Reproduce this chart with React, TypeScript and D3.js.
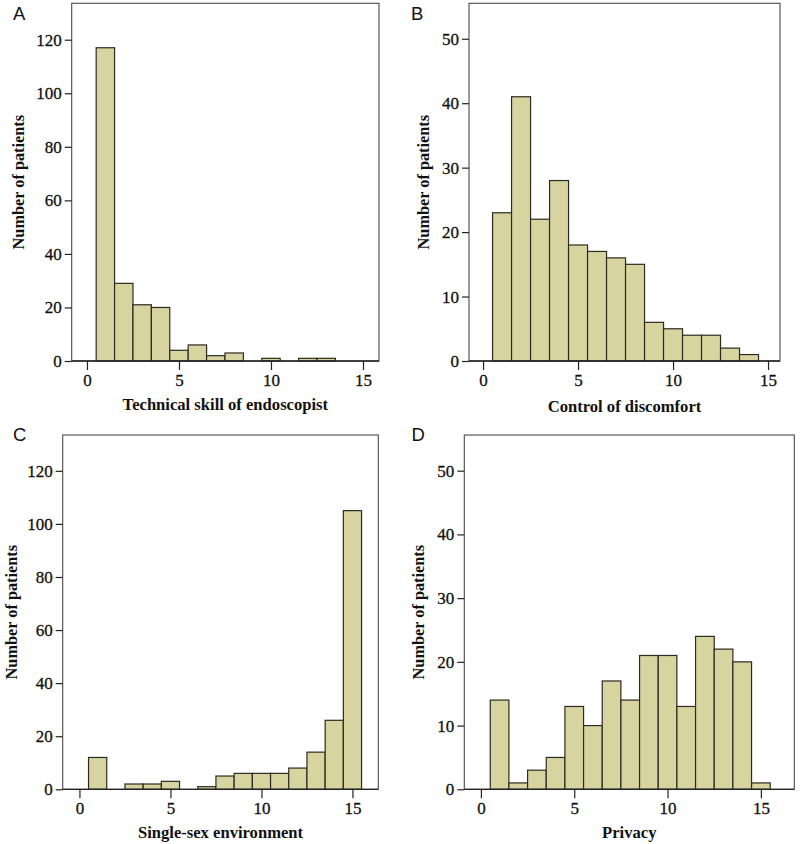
import React, { useEffect, useRef } from "react";
import * as d3 from "d3";

const scores = [0, 1, 2, 3, 4, 5, 6, 7, 8, 9, 10, 11, 12, 13, 14, 15];
const technicalSkill = [0, 117, 29, 21, 20, 4, 6, 2, 3, 0, 1, 0, 1, 1, 0, 0];
const controlDiscomfort = [0, 23, 41, 22, 28, 18, 17, 16, 15, 6, 5, 4, 4, 2, 1, 0];
const singleSex = [0, 12, 0, 2, 2, 3, 0, 1, 5, 6, 6, 6, 8, 14, 26, 105];
const privacy = [0, 14, 1, 3, 5, 13, 10, 17, 14, 21, 21, 13, 24, 22, 20, 1];
const xTicks = [0, 5, 10, 15];
const yTicksLarge = [0, 20, 40, 60, 80, 100, 120];
const yTicksSmall = [0, 10, 20, 30, 40, 50];
const panelLetters = ["A", "B", "C", "D"];
const xTitles = [
  "Technical skill of endoscopist",
  "Control of discomfort",
  "Single-sex environment",
  "Privacy",
];
const yTitle = "Number of patients";

const panels = [
  { values: technicalSkill, yTicks: yTicksLarge, left: 71.7, right: 379, top: 3.3, bottom: 361, xd: [-0.83, 15.87], yMax: 133.6, lx: 13, ly: 20, yx: 23.5, tY: 410 },
  { values: controlDiscomfort, yTicks: yTicksSmall, left: 469, right: 780, top: 3.3, bottom: 361, xd: [-0.74, 15.63], yMax: 55.5, lx: 411, ly: 20, yx: 428.5, tY: 411.5 },
  { values: singleSex, yTicks: yTicksLarge, left: 62.7, right: 378.3, top: 435, bottom: 789.3, xd: [-0.92, 16.42], yMax: 133.5, lx: 13, ly: 440.5, yx: 17, tY: 838 },
  { values: privacy, yTicks: yTicksSmall, left: 464.3, right: 794.3, top: 435, bottom: 789.3, xd: [-0.89, 16.79], yMax: 55.6, lx: 411.5, ly: 440.5, yx: 424, tY: 838 },
];

const FILL = "#d8d4a0";
const EDGE = "#2b2b22";
const FRAME = "#4a4a4a";
const SERIF = "'Liberation Serif', 'Times New Roman', serif";

export default function App() {
  const ref = useRef<SVGSVGElement | null>(null);

  useEffect(() => {
    document.body.style.margin = "0";
    const svg = d3.select(ref.current);
    svg.selectAll("*").remove();

    panels.forEach((p, i) => {
      const g = svg.append("g");
      const x = d3.scaleLinear().domain(p.xd).range([p.left, p.right]);
      const y = d3.scaleLinear().domain([0, p.yMax]).range([p.bottom, p.top]);

      g.selectAll("rect.bar")
        .data(scores.map((s, k) => ({ s, v: p.values[k] })).filter((d) => d.v > 0))
        .enter()
        .append("rect")
        .attr("class", "bar")
        .attr("x", (d) => x(d.s - 0.5))
        .attr("width", (d) => x(d.s + 0.5) - x(d.s - 0.5))
        .attr("y", (d) => y(d.v))
        .attr("height", (d) => y(0) - y(d.v))
        .attr("fill", FILL)
        .attr("stroke", EDGE)
        .attr("stroke-width", 1.2);

      g.append("rect")
        .attr("x", p.left)
        .attr("y", p.top)
        .attr("width", p.right - p.left)
        .attr("height", p.bottom - p.top)
        .attr("fill", "none")
        .attr("stroke", FRAME)
        .attr("stroke-width", 1.1);

      const ya = g
        .append("g")
        .attr("transform", `translate(${p.left},0)`)
        .call(d3.axisLeft(y).tickValues(p.yTicks).tickSize(7).tickPadding(3).tickFormat(d3.format("d")));
      ya.select(".domain").remove();
      ya.selectAll("line").attr("stroke", "#222").attr("stroke-width", 1.2);
      ya.selectAll("text")
        .attr("font-family", SERIF)
        .attr("font-size", 17)
        .attr("fill", "#111")
        .attr("stroke", "#111")
        .attr("stroke-width", 0.3);

      const xa = g
        .append("g")
        .attr("transform", `translate(0,${p.bottom})`)
        .call(d3.axisBottom(x).tickValues(xTicks).tickSize(9).tickPadding(4).tickFormat(d3.format("d")));
      xa.select(".domain").remove();
      xa.selectAll("line").attr("stroke", "#222").attr("stroke-width", 1.2);
      xa.selectAll("text")
        .attr("font-family", SERIF)
        .attr("font-size", 17)
        .attr("fill", "#111")
        .attr("stroke", "#111")
        .attr("stroke-width", 0.3);

      g.append("line")
        .attr("x1", p.left)
        .attr("x2", p.right)
        .attr("y1", p.bottom)
        .attr("y2", p.bottom)
        .attr("stroke", "#222")
        .attr("stroke-width", 1.3);

      g.append("text")
        .attr("x", (p.left + p.right) / 2)
        .attr("y", p.tY)
        .attr("text-anchor", "middle")
        .attr("font-family", SERIF)
        .attr("font-weight", "bold")
        .attr("font-size", 16.6)
        .attr("fill", "#111")
        .text(xTitles[i]);

      g.append("text")
        .attr("transform", `translate(${p.yx},${(p.top + p.bottom) / 2}) rotate(-90)`)
        .attr("text-anchor", "middle")
        .attr("font-family", SERIF)
        .attr("font-weight", "bold")
        .attr("font-size", 16.3)
        .attr("fill", "#111")
        .text(yTitle);

      g.append("text")
        .attr("x", p.lx)
        .attr("y", p.ly)
        .attr("font-family", "'Liberation Sans', Arial, sans-serif")
        .attr("font-size", 18.5)
        .attr("fill", "#111")
        .text(panelLetters[i]);
    });
  }, []);

  return (
    <svg
      ref={ref}
      width={800}
      height={844}
      style={{ position: "absolute", left: 0, top: 0, background: "#fff", display: "block" }}
    />
  );
}
